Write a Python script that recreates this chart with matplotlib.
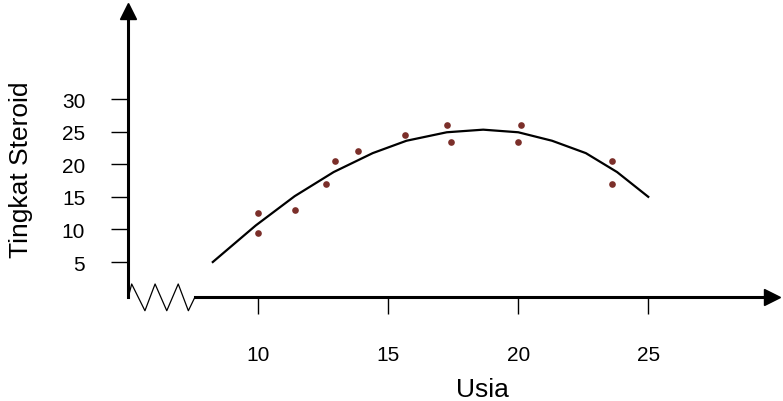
import matplotlib
matplotlib.use("Agg")
import matplotlib.pyplot as plt

plt.rcParams.update({"font.family": ["Liberation Sans", "DejaVu Sans"], "font.size": 15})

# data
usia = [10.0, 10.0, 11.4, 12.6, 12.95, 13.85, 15.65, 17.25, 17.4, 20.1, 20.0, 23.6, 23.6]
steroid = [12.5, 9.5, 13.0, 16.9, 20.5, 22.0, 24.5, 26.0, 23.4, 26.0, 23.4, 20.5, 16.9]

fit_x = [8.25, 9.9, 11.4, 12.9, 14.4, 15.7, 17.25, 18.65, 20.0, 21.3, 22.6, 23.8, 25.0]
fit_y = [5.0, 10.6, 15.1, 18.8, 21.7, 23.6, 24.9, 25.3, 24.9, 23.6, 21.7, 18.8, 15.0]

x_ticks = [10, 15, 20, 25]
y_ticks = [5, 10, 15, 20, 25, 30]

# axis break (zigzag) drawn on the x axis
break_x = [5.0, 5.13, 5.64, 6.03, 6.48, 6.92, 7.31, 7.56]
break_y = [-0.41, 1.63, -2.47, 1.63, -2.47, 1.63, -2.47, -0.41]

x_lo, x_hi = 5.0, 29.76
y_lo, y_hi = -0.41, 43.5

fig = plt.figure(figsize=(7.83, 4.02), dpi=100)
ax = fig.add_axes([128.3 / 783, (402 - 298.3) / 402, 643.7 / 783, 286.3 / 402])
ax.set_xlim(x_lo, x_hi)
ax.set_ylim(y_lo, y_hi)

ax.plot(fit_x, fit_y, color="black", lw=1.6, solid_joinstyle="miter")
ax.plot(usia, steroid, "o", color="#7b2f2a", ms=4.8, mec="none")

for side in ["top", "right"]:
    ax.spines[side].set_visible(False)
ax.spines["left"].set_linewidth(2.2)
ax.spines["bottom"].set_linewidth(2.2)
ax.spines["bottom"].set_bounds(7.56, x_hi)

ax.plot(break_x, break_y, color="black", lw=0.9, clip_on=False)

# arrow heads
ax.plot(1, 0, ">", color="black", ms=11.5, transform=ax.transAxes, clip_on=False)
ax.plot(0, 1, "^", color="black", ms=11.5, transform=ax.transAxes, clip_on=False)

ax.set_xticks(x_ticks)
ax.set_yticks(y_ticks)
ax.tick_params(axis="x", length=12, width=1, pad=22)
ax.tick_params(axis="y", length=12, width=1, pad=19)

ax.set_xlabel("Usia", fontsize=19)
ax.xaxis.set_label_coords(0.55, -0.277)
ax.set_ylabel("Tingkat Steroid", fontsize=19)
ax.yaxis.set_label_coords(-0.148, 0.4485)

plt.savefig("out.png", dpi=100)
